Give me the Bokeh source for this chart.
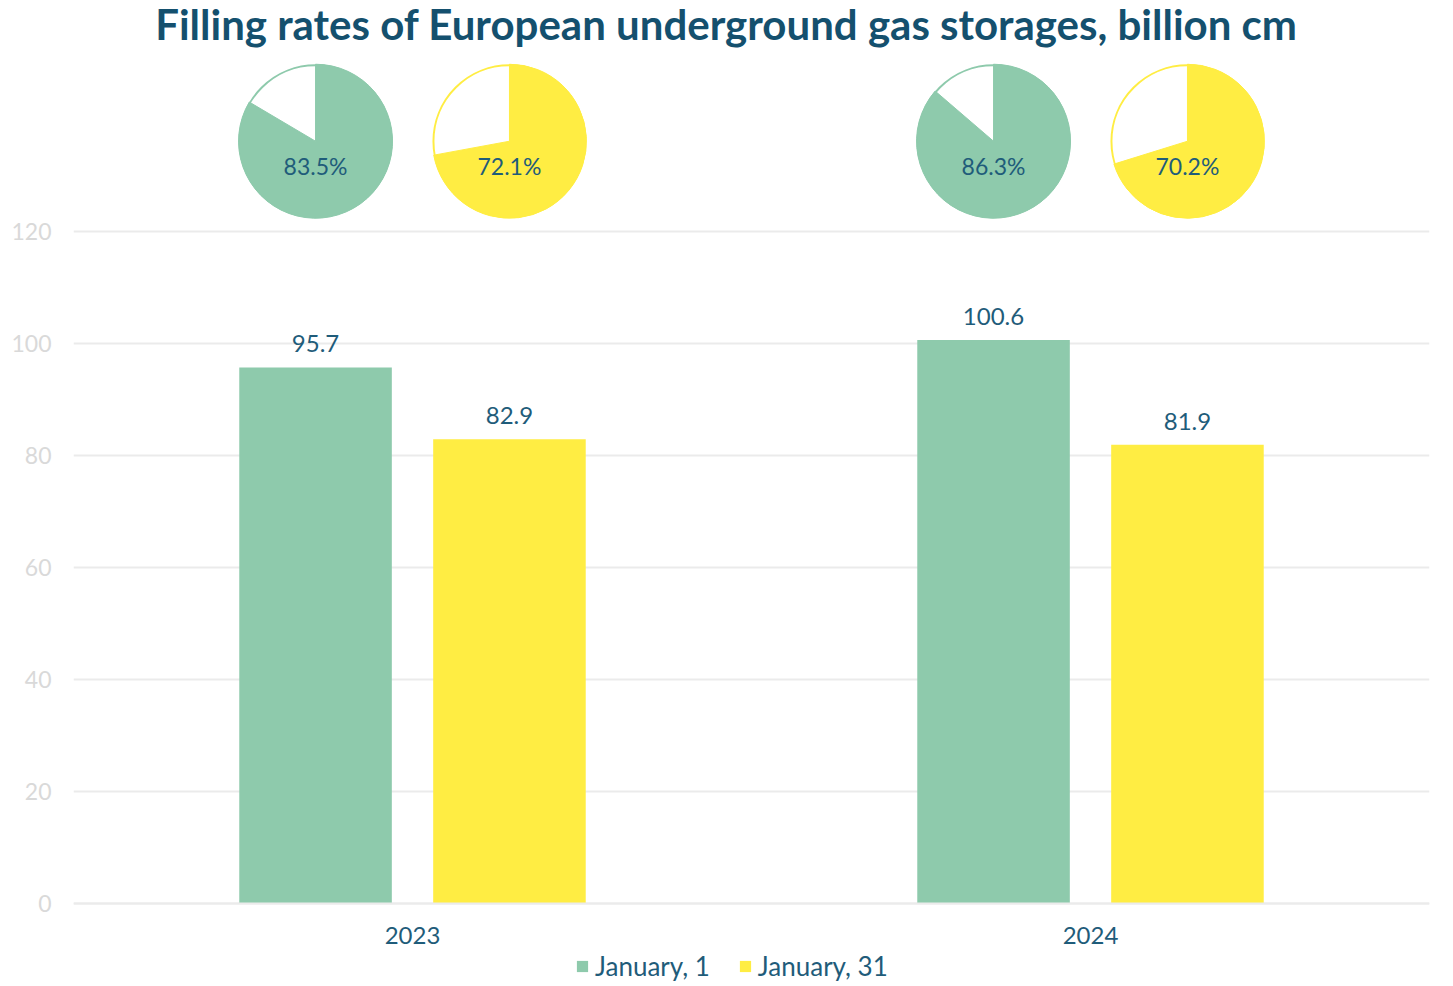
import math
from bokeh.plotting import figure
from bokeh.models import (ColumnDataSource, FactorRange, Range1d, FixedTicker,
                          LabelSet, Legend, Label)
from bokeh.transform import dodge
from bokeh.embed import file_html
from bokeh.resources import INLINE
from bokeh.core.properties import value

# ---- data ----
years = ["2023", "2024"]
jan1 = [95.7, 100.6]
jan31 = [82.9, 81.9]
fill_jan1 = [83.5, 86.3]
fill_jan31 = [72.1, 70.2]
series_names = ["January, 1", "January, 31"]
y_ticks = [0, 20, 40, 60, 80, 100, 120]
title_text = "Filling rates of European underground gas storages, billion cm"

GREEN = "#8ecaac"
YELLOW = "#ffed43"
TEXT = "#1f5c7a"
TITLE = "#14506e"
FONT = "Lato"

Y_START = -14.3        # room below zero for year labels and legend
Y_END = 159.8          # room above 120 for the pies and the title
PIE_Y = 136.1          # vertical position of the pies (data units)
PIE_R = 77             # pie radius in screen px
OFF = 0.143            # dodge offset
BAR_W = 0.225

src = ColumnDataSource(dict(
    year=years,
    jan1=jan1,
    jan31=jan31,
    jan1_lbl=[f"{v:.1f}" for v in jan1],
    jan31_lbl=[f"{v:.1f}" for v in jan31],
    pie_y=[PIE_Y] * len(years),
    pie_lbl_y=[PIE_Y - 4.4] * len(years),
    p1_start=[math.pi / 2] * len(years),
    p1_end=[math.pi / 2 - f / 100 * 2 * math.pi for f in fill_jan1],
    p2_start=[math.pi / 2] * len(years),
    p2_end=[math.pi / 2 - f / 100 * 2 * math.pi for f in fill_jan31],
    p1_lbl=[f"{f:.1f}%" for f in fill_jan1],
    p2_lbl=[f"{f:.1f}%" for f in fill_jan31],
))

p = figure(x_range=FactorRange(*years, range_padding=0),
           y_range=Range1d(Y_START, Y_END),
           frame_width=1356, frame_height=975,
           output_backend="svg", toolbar_location=None,
           min_border_left=73, min_border_right=8, min_border_top=8,
           min_border_bottom=0)

p.outline_line_color = None
p.background_fill_color = "white"
p.border_fill_color = "white"

# title (centred on the whole figure)
p.add_layout(Label(x=1.0, y=Y_END, text=title_text, x_offset=-25, y_offset=10,
                   text_align="center", text_baseline="top",
                   text_font=FONT, text_font_style="bold",
                   text_font_size="42px", text_color=TITLE))

# bars
r1 = p.vbar(x=dodge("year", -OFF, range=p.x_range), top="jan1", width=BAR_W,
            source=src, fill_color=GREEN, line_color=None)
r2 = p.vbar(x=dodge("year", OFF, range=p.x_range), top="jan31", width=BAR_W,
            source=src, fill_color=YELLOW, line_color=None)

for col, off in (("jan1", -OFF), ("jan31", OFF)):
    p.add_layout(LabelSet(x=dodge("year", off, range=p.x_range), y=col,
                          text=col + "_lbl", source=src, y_offset=15,
                          text_align="center", text_baseline="bottom",
                          text_font=value(FONT), text_font_size="24px",
                          text_color=TEXT))

# pies
for start, end, lbl, off, color in (("p1_start", "p1_end", "p1_lbl", -OFF, GREEN),
                                    ("p2_start", "p2_end", "p2_lbl", OFF, YELLOW)):
    xx = dodge("year", off, range=p.x_range)
    p.scatter(x=xx, y="pie_y", size=2 * PIE_R - 2, source=src, marker="circle",
              fill_color="white", line_color=color, line_width=2)
    p.wedge(x=xx, y="pie_y", radius=PIE_R, radius_units="screen",
            start_angle=start, end_angle=end, direction="clock",
            source=src, fill_color=color, line_color=color, line_width=1)
    p.text(x=xx, y="pie_lbl_y", text=lbl, source=src, text_align="center",
           text_baseline="middle", text_font=value(FONT),
           text_font_size="23px", text_color=TEXT)

# axes
p.yaxis.ticker = FixedTicker(ticks=y_ticks)
p.yaxis.axis_line_color = None
p.yaxis.major_tick_line_color = None
p.yaxis.minor_tick_line_color = None
p.yaxis.major_label_text_color = "#d9d9d9"
p.yaxis.major_label_text_font = FONT
p.yaxis.major_label_text_font_size = "23px"
p.yaxis.major_label_standoff = 16

p.xaxis.fixed_location = 0
p.xaxis.axis_line_color = "#ebebeb"
p.xaxis.axis_line_width = 2
p.xaxis.major_tick_line_color = None
p.xaxis.minor_tick_line_color = None
p.xaxis.major_label_text_color = TEXT
p.xaxis.major_label_text_font = FONT
p.xaxis.major_label_text_font_size = "24px"
p.xaxis.major_label_standoff = 18

p.xgrid.grid_line_color = None
p.ygrid.grid_line_color = "#ebebeb"
p.ygrid.grid_line_width = 2

legend = Legend(items=[(series_names[0], [r1]), (series_names[1], [r2])],
                orientation="horizontal", location=(502, 1),
                label_text_font=FONT, label_text_font_size="26px",
                label_text_color=TEXT, glyph_width=14, glyph_height=14,
                label_height=24, label_standoff=6, spacing=28, padding=0,
                margin=0, border_line_color=None, background_fill_alpha=0)
p.add_layout(legend)

open("out.html", "w").write(file_html(p, INLINE))
